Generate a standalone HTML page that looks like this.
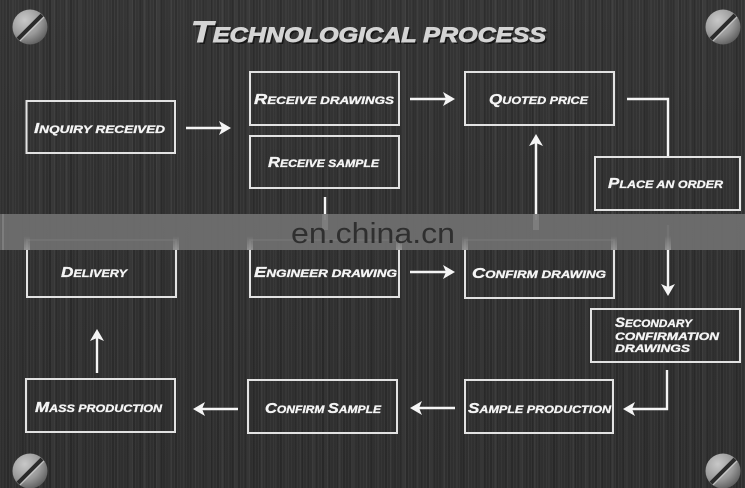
<!DOCTYPE html>
<html><head><meta charset="utf-8">
<style>
html,body{margin:0;padding:0;}
body{width:745px;height:488px;overflow:hidden;background:#303030;}
.bg{position:absolute;left:0;top:0;width:745px;height:488px;
background:
repeating-linear-gradient(90deg, rgba(255,255,255,0.035) 0 1px, transparent 1px 3px),
repeating-linear-gradient(90deg, rgba(0,0,0,0.10) 0 2px, transparent 2px 7px),
repeating-linear-gradient(90deg, rgba(255,255,255,0.03) 0 3px, transparent 3px 13px),
repeating-linear-gradient(90deg, rgba(0,0,0,0.06) 0 5px, transparent 5px 23px),
linear-gradient(180deg,#353535 0%,#323232 40%,#2f2f2f 100%);}
svg{position:absolute;left:0;top:0;}
.lbl{font-family:"Liberation Sans",sans-serif;font-weight:bold;font-style:italic;fill:#f4f4f4;stroke:#f4f4f4;stroke-width:0.35;}
</style></head><body>
<div class="bg"></div>
<svg width="745" height="488" viewBox="0 0 745 488" xmlns="http://www.w3.org/2000/svg">
<defs>
<radialGradient id="scr" cx="35%" cy="30%" r="75%">
<stop offset="0" stop-color="#c8c8c8"/>
<stop offset="0.6" stop-color="#9a9a9a"/>
<stop offset="1" stop-color="#5e5e5e"/>
</radialGradient>
<linearGradient id="glow" x1="0" y1="0" x2="0" y2="1">
<stop offset="0" stop-color="#ffffff" stop-opacity="0"/>
<stop offset="1" stop-color="#ffffff" stop-opacity="0.25"/>
</linearGradient>
<g id="screw">
<circle r="17.5" fill="url(#scr)"/>
<line x1="-12" y1="12" x2="12" y2="-12" stroke="#2a2a2a" stroke-width="4"/>
<line x1="-10" y1="14" x2="14" y2="-10" stroke="#d0d0d0" stroke-width="1.2" opacity="0.8"/>
</g>
</defs>

<!-- screws -->
<use href="#screw" x="30" y="27"/>
<use href="#screw" x="723" y="27"/>
<use href="#screw" x="30" y="471"/>
<use href="#screw" x="723" y="471"/>

<!-- title -->
<text x="193" y="44" fill="#111" opacity="0.8" font-family="Liberation Sans, sans-serif" font-weight="bold" font-style="italic" textLength="355" lengthAdjust="spacingAndGlyphs"><tspan font-size="30">T</tspan><tspan font-size="21">ECHNOLOGICAL PROCESS</tspan></text>
<text x="191" y="42" fill="#d4d4d4" stroke="#d4d4d4" stroke-width="0.9" font-family="Liberation Sans, sans-serif" font-weight="bold" font-style="italic" textLength="355" lengthAdjust="spacingAndGlyphs"><tspan font-size="30">T</tspan><tspan font-size="21">ECHNOLOGICAL PROCESS</tspan></text>

<g fill="none" stroke="#e2e2e2" stroke-width="2">
<rect x="26.5" y="101" width="148.5" height="52"/>
<rect x="250" y="72" width="149" height="53"/>
<rect x="250" y="136" width="149" height="52"/>
<rect x="465" y="72" width="149" height="53"/>
<rect x="595" y="157" width="145" height="53"/>
<rect x="27" y="240" width="149" height="57"/>
<rect x="250" y="240" width="149" height="57"/>
<rect x="465" y="240" width="149" height="58"/>
<rect x="591" y="309" width="149" height="53"/>
<rect x="26" y="379" width="149" height="53"/>
<rect x="248" y="380" width="149" height="53"/>
<rect x="465" y="380" width="148" height="53"/>
</g>

<g fill="none" stroke="#f5f5f5" stroke-width="2.4">
<line x1="186" y1="128" x2="228" y2="128"/>
<line x1="410" y1="99" x2="452" y2="99"/>
<polyline points="627,99 668,99 668,156"/>
<line x1="536" y1="220" x2="536" y2="139"/>
<line x1="325" y1="197" x2="325" y2="220"/>
<line x1="410" y1="272" x2="452" y2="272"/>
<line x1="668" y1="225" x2="668" y2="292"/>
<polyline points="667,370 667,409 627,409"/>
<line x1="455" y1="408" x2="413" y2="408"/>
<line x1="238" y1="409" x2="196" y2="409"/>
<line x1="97" y1="373" x2="97" y2="333"/>
</g>
<g fill="#f5f5f5">
<polygon points="231,128 219,121 222,128 219,135"/>
<polygon points="455,99 443,92 446,99 443,106"/>
<polygon points="536,134 529,146 536,143 543,146"/>
<polygon points="455,272 443,265 446,272 443,279"/>
<polygon points="668,296 661,284 668,287 675,284"/>
<polygon points="623,409 635,402 632,409 635,416"/>
<polygon points="410,408 422,401 419,408 422,415"/>
<polygon points="193,409 205,402 202,409 205,416"/>
<polygon points="97,329 90,341 97,338 104,341"/>
</g>

<!-- labels -->
<text class="lbl" x="34" y="133" textLength="131" lengthAdjust="spacingAndGlyphs"><tspan font-size="15">I</tspan><tspan font-size="11">NQUIRY RECEIVED</tspan></text>
<text class="lbl" x="254" y="104" textLength="140" lengthAdjust="spacingAndGlyphs"><tspan font-size="15">R</tspan><tspan font-size="11">ECEIVE DRAWINGS</tspan></text>
<text class="lbl" x="268" y="167" textLength="111" lengthAdjust="spacingAndGlyphs"><tspan font-size="15">R</tspan><tspan font-size="11">ECEIVE SAMPLE</tspan></text>
<text class="lbl" x="489" y="104" textLength="99" lengthAdjust="spacingAndGlyphs"><tspan font-size="15">Q</tspan><tspan font-size="11">UOTED PRICE</tspan></text>
<text class="lbl" x="608" y="188" textLength="115" lengthAdjust="spacingAndGlyphs"><tspan font-size="15">P</tspan><tspan font-size="11">LACE AN ORDER</tspan></text>
<text class="lbl" x="61" y="277" textLength="66" lengthAdjust="spacingAndGlyphs"><tspan font-size="15">D</tspan><tspan font-size="11">ELIVERY</tspan></text>
<text class="lbl" x="254" y="277" textLength="143" lengthAdjust="spacingAndGlyphs"><tspan font-size="15">E</tspan><tspan font-size="11">NGINEER DRAWING</tspan></text>
<text class="lbl" x="472" y="278" textLength="134" lengthAdjust="spacingAndGlyphs"><tspan font-size="15">C</tspan><tspan font-size="11">ONFIRM DRAWING</tspan></text>
<text class="lbl" x="615" y="327" textLength="77" lengthAdjust="spacingAndGlyphs"><tspan font-size="14">S</tspan><tspan font-size="11">ECONDARY</tspan></text>
<text class="lbl" x="615" y="340" font-size="11" textLength="104" lengthAdjust="spacingAndGlyphs">CONFIRMATION</text>
<text class="lbl" x="615" y="352" font-size="11" textLength="75" lengthAdjust="spacingAndGlyphs">DRAWINGS</text>
<text class="lbl" x="35" y="412" textLength="127" lengthAdjust="spacingAndGlyphs"><tspan font-size="15">M</tspan><tspan font-size="11">ASS PRODUCTION</tspan></text>
<text class="lbl" x="265" y="413" textLength="116" lengthAdjust="spacingAndGlyphs"><tspan font-size="15">C</tspan><tspan font-size="11">ONFIRM </tspan><tspan font-size="15">S</tspan><tspan font-size="11">AMPLE</tspan></text>
<text class="lbl" x="468" y="413" textLength="143" lengthAdjust="spacingAndGlyphs"><tspan font-size="15">S</tspan><tspan font-size="11">AMPLE PRODUCTION</tspan></text>

<!-- watermark band -->
<rect x="2" y="214" width="743" height="36" fill="#6d6d6d" opacity="0.96"/>
<rect x="0" y="214" width="4" height="36" fill="#888" opacity="0.6"/>
<g fill="url(#glow)">
<rect x="24" y="236" width="6" height="14"/>
<rect x="173" y="236" width="6" height="14"/>
<rect x="247" y="236" width="6" height="14"/>
<rect x="396" y="236" width="6" height="14"/>
<rect x="462" y="236" width="6" height="14"/>
<rect x="611" y="236" width="6" height="14"/>
<rect x="665" y="236" width="6" height="14"/>
</g>
<rect x="533" y="214" width="6" height="16" fill="#ffffff" opacity="0.12"/>
<rect x="322" y="214" width="6" height="16" fill="#ffffff" opacity="0.12"/>
<text x="291" y="243" font-family="Liberation Sans, sans-serif" font-size="29" fill="#2f2f2f" textLength="164" lengthAdjust="spacingAndGlyphs">en.china.cn</text>
</svg>
</body></html>
